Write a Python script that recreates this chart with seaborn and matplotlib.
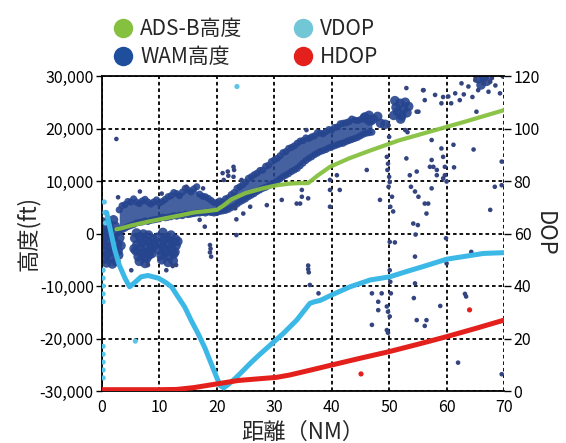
import matplotlib
matplotlib.use("Agg")
import matplotlib.pyplot as plt
from matplotlib.lines import Line2D
from matplotlib.ticker import FuncFormatter, MultipleLocator
import seaborn as sns
import pandas as pd

# ADS-B altitude (ft) vs distance (NM)
ads_d = [2.5, 3.4, 5, 8, 11, 13.8, 16, 18.5, 20, 21, 22.5, 25, 28, 30.5, 32.7,
         34.5, 35.9, 37.5, 39.7, 43, 46.7, 51.6, 57.4, 63.2, 70]
ads_h = [800, 1000, 1500, 2250, 2900, 3500, 4000, 4300, 4500, 5200, 6500, 7700, 8600, 9200, 9500,
         9600, 9600, 11000, 12700, 14300, 15800, 17700, 19500, 21300, 23500]

# WAM altitude: dense band (upper and lower edge)
band_d = [3, 4, 5, 6, 7, 8, 9, 10, 11, 12, 13, 14, 15, 16, 17, 18, 19, 20, 21, 22, 23, 24, 25,
          26, 27, 28, 29, 30, 31, 32, 33, 34, 35, 36, 37, 38, 39, 40, 41, 42, 43, 44, 45, 46, 47]
band_top_h = [4500, 5500, 6000, 6000, 6200, 6000, 6000, 5800, 6500, 7200, 7600, 7900, 8300, 8500,
              7500, 7000, 6300, 5800, 6000, 6800, 7800, 8900, 9800, 10800, 11500, 12100, 13000,
              14000, 14800, 15600, 16400, 17200, 17700, 18100, 18600, 19100, 19400, 19700, 20300,
              21000, 21300, 21600, 21700, 21600, 21300]
band_bot_h = [500, 1000, 1500, 2000, 2200, 2300, 2600, 2800, 3000, 3200, 3300, 3400, 3600, 3800,
              3900, 3900, 4000, 4000, 4300, 4600, 5200, 6000, 6600, 7300, 8000, 8600, 9100, 9600,
              10400, 11100, 11800, 12400, 13400, 14300, 15000, 15600, 16000, 16500, 16900, 17200,
              17700, 18100, 18600, 19100, 19300]
edge_d = [3.5, 4.5, 5.5, 6.5, 7.5, 8.5, 9.5, 10.5, 11.5, 12.5, 13.5, 14.5, 15.5, 16.5, 17.5,
          18.5, 19.5, 20.5, 21.5, 22.5, 23.5, 24.5, 25.5, 26.5, 27.5, 28.5, 29.5, 30.5, 31.5,
          32.5, 33.5, 34.5, 35.5, 36.5, 37.5, 38.5, 39.5, 40.5, 41.5, 42.5, 43.5, 44.5, 45.5, 46.5]
edge_top_h = [5300, 6100, 6600, 5700, 6500, 5600, 6400, 6100, 7000, 7800, 7200, 8600, 7900, 8900,
              7100, 6700, 5900, 6200, 6600, 7400, 8600, 9300, 10500, 11200, 12000, 12800, 13700,
              14300, 15400, 16200, 16700, 17600, 18200, 18400, 19200, 19000, 19800, 20200, 20900,
              21100, 21800, 21500, 22200, 21200]
edge_bot_h = [700, 1300, 1700, 2100, 2400, 2500, 2700, 3100, 3100, 3400, 3500, 3700, 3700, 3900,
              4000, 4100, 3900, 4200, 4400, 4900, 5600, 6300, 7000, 7600, 8300, 8800, 9400, 10000,
              10800, 11400, 12100, 12900, 13900, 14600, 15300, 15800, 16300, 16700, 17100, 17500,
              17900, 18300, 18900, 19200]

# WAM dense clusters
blob_d = [0.1, 0.4, 0.2, 0.5, 0.1, 0.7, 0.3, 0.9, 0.5, 1.1, 1.4, 1.2, 1.7, 1.3, 1.9, 1.4, 2.0, 2.3,
          2.5, 2.0, 2.7, 2.2, 2.9, 2.4, 3.1, 3.3, 0.8, 1.8, 0.9, 2.8,
          5.7, 6.1, 5.9, 6.3, 6.6, 6.9, 6.7, 7.0, 6.5, 7.4, 7.7, 7.3, 7.8, 8.1, 8.3, 8.5, 8.2, 8.8,
          8.9, 8.7, 7.5, 6.0, 9.1, 5.6, 7.2,
          9.7, 10.1, 9.9, 10.3, 10.6, 10.8, 10.6, 11.0, 11.3, 11.6, 11.2, 11.7, 12.0, 12.3, 12.1,
          12.5, 12.8, 12.9, 12.7, 12.4, 11.5, 13.2, 10.4,
          50.8, 51.2, 51.5, 51.9, 52.2, 52.5, 52.8, 53.1, 51.0, 53.4, 52.0, 45.8, 46.5, 47.2, 48.0,
          48.5, 49.3, 65.5, 66.5, 67.0, 66.0]
blob_h = [2200, 1200, 300, -600, -1500, -2300, -3200, -4000, -4900, 1900, 700, -400, -1300, -2600,
          -3500, -4500, 2600, 1400, 200, -900, -2000, -3000, -4100, -5300, -800, -2300, -5600,
          -5800, 400, -3300,
          -900, -2100, -3300, -4400, -600, -1700, -2900, -4000, -5300, -1200, -2400, -3500, -4700,
          -300, -1800, -3000, -4100, -1000, -2500, -3800, -5700, 100, -1900, -2900, -100,
          -700, -1900, -3100, -4200, 200, -1300, -2600, -3700, -800, -2100, -3200, -4400, -300,
          -1600, -2800, -3900, -1100, -2300, -3500, -5200, -5500, -1500, -5000,
          22500, 24000, 23200, 24800, 22400, 23700, 25000, 23000, 25300, 24200, 21800, 22200, 22500,
          21800, 22300, 21000, 20800, 29500, 29800, 29000, 28300]

# WAM scattered points
wam_d = [2.5, 2.8, 6.6, 10.4, 14.7, 17.6, 17.0, 17.9, 18.8, 18.9, 18.8, 19.0, 5.1, 8.0, 11.2, 12.9,
         12.3, 21.0, 21.2, 21.9, 22.0, 22.9, 23.0, 22.9, 24.3, 23.4, 23.4, 23.2, 24.6, 25.8, 28.7,
         31.3, 34.5, 33.9, 34.8, 35.9, 34.8, 35.6, 39.7, 40.9, 39.7, 39.7, 41.4, 46.1, 48.4, 50.7,
         49.9, 50.0, 49.6, 49.8, 49.7, 50.0, 50.1, 49.9, 50.5, 50.2,
         53.0, 53.6, 53.8, 54.5, 55.1, 56.2, 56.5, 54.2, 55.0, 54.6, 57.4, 57.4, 57.7, 58.3, 59.1,
         59.4, 59.7, 59.7, 60.0, 61.2, 61.3, 64.7, 67.6, 69.6, 68.4, 69.6, 54.8, 57.1, 58.3, 59.4,
         57.4, 56.8, 65.2, 52.8, 53.2,
         35.9, 35.9, 36.0, 36.2, 37.7, 47.0, 48.7, 48.1, 48.1, 47.0, 49.6, 50.1, 50.2, 50.3, 49.8,
         50.1, 49.6, 49.8, 54.5, 54.5, 54.3, 54.8, 56.5, 56.2, 58.9, 62.0, 63.2, 63.4, 64.3, 59.9,
         60.0, 69.6, 51.0, 50.1,
         53.0, 55.9, 59.4, 62.3, 69.3, 67.6, 65.0, 55.1, 56.2, 58.0, 59.1, 60.3, 61.5, 62.6, 63.8,
         65.0, 65.5, 66.4, 67.3, 67.9, 69.8, 54.8, 56.0, 64.5, 68.5, 60.8, 63.0]
wam_h = [18000, 6900, 8000, 7600, 8900, 8600, 2600, 1300, -2200, -2900, -3600, -4400, -7000, -6000,
         -7000, -6000, -6200, 11500, 10200, 11800, 11000, 12700, 12100, 10800, 10200, 2700, -300,
         4800, 3800, 5100, 5400, 6400, 5700, 5700, 7000, 6700, 8300, 19700, 10200, 11100, 8300,
         5100, 8300, 12100, 6400, 4200,
         20600, 18400, 14600, 13300, 12100, 10800, 9800, 8900, 7000, 5100,
         14300, 11100, 8900, 8000, 7000, 5700, 3800, 1900, 1600, -200, 17800, 14000, 12700, 11100,
         16200, 14600, 12700, 11100, 9900, 16900, 12600, 16000, 4500, 13700, 8900, 9200, 11800,
         12700, 12100, 10500, 8600, 5700, 23200, 19700, 19300,
         -6100, -6800, -7400, -9800, -11400, -11400, -11400, -13000, -14600, -17400, -13900, -7000,
         -9200, -11400, -14900, -15800, -18400, -18900, -4400, -9500, -12300, -16500, -16500,
         -17600, -13800, -24600, -11500, -12000, -3500, -900, -5700, -26800, -1700, -1600,
         27700, 27300, 26000, 25400, 26700, 28900, 30000, 23200, 25400, 26400, 24800, 26100, 26700,
         28600, 28000, 29200, 27300, 28600, 27000, 29600, 29900, 23200, 27300, 26000, 28200,
         24800, 26500]

# VDOP (line) and stray VDOP points
vdop_d = [0.8, 1.5, 2.2, 3.0, 4.0, 4.8, 5.8, 6.8, 8.0, 9.8, 11.0, 12.1, 13.2, 14.4, 15.5, 16.7,
          17.9, 19.0, 20.0, 20.6, 21.2, 22.0, 22.9, 24.0, 25.8, 27.5, 29.3, 31.6, 33.9, 36.2,
          37.0, 38.0, 40.0, 43.2, 46.7, 50.1, 53.0, 55.9, 60.0, 63.5, 66.4, 70.0]
vdop_v = [68, 61, 54, 48, 43, 39.7, 41.5, 43.5, 44, 43, 41.5, 39.7, 36, 32, 27, 22, 16.5, 10.5, 5,
          2, 1.2, 2.5, 4.2, 6.5, 10.5, 14, 17.5, 22, 27, 33.4, 34, 34.5, 36.6, 39.7, 42.3, 43.5,
          45.5, 47.4, 50.2, 51.4, 52.4, 52.7]
vdop_pt_d = [0.2, 0.2, 0.2, 0.2, 0.2, 0.2, 0.2, 0.2, 0.2, 0.2, 0.4, 0.5, 0.6, 5.8, 23.5]
vdop_pt_v = [46, 43, 40, 37, 34, 17, 14, 11, 8, 5, 72, 68, 64, 19, 116]

# HDOP (line) and stray HDOP points
hdop_d = [0, 5, 10, 13, 16, 20, 23.7, 27, 30.4, 32.7, 36, 40, 45, 50, 55, 60, 65, 70]
hdop_v = [0.5, 0.5, 0.5, 0.6, 1.3, 2.7, 4.0, 4.6, 5.2, 6.1, 7.8, 9.9, 12.5, 15, 17.8, 20.7, 23.8, 27]
hdop_pt_d = [45.1, 64.0]
hdop_pt_v = [6.5, 30.9]

green = "#86c03f"
navy = "#26458f"
sky = "#3bb8e6"
red = "#e3201c"

sns.set_style("white")
plt.rcParams['font.family'] = ['Noto Sans CJK JP', 'DejaVu Sans']

fig = plt.figure(figsize=(5.66, 4.43), dpi=100)
ax = fig.add_axes([102 / 566, 52 / 443, 402 / 566, 315 / 443])

edges = pd.DataFrame({'d': band_d + band_d + edge_d + edge_d,
                      'h': band_top_h + band_bot_h + edge_top_h + edge_bot_h})
blobs = pd.DataFrame({'d': blob_d, 'h': blob_h})
wam = pd.DataFrame({'d': wam_d, 'h': wam_h})

ax.fill_between(band_d, band_bot_h, band_top_h, color=navy, alpha=0.85, linewidth=0)
sns.scatterplot(data=edges, x='d', y='h', ax=ax, s=26, color=navy, edgecolor='none', alpha=0.9, legend=False)
sns.scatterplot(data=blobs, x='d', y='h', ax=ax, s=48, color=navy, edgecolor='none', alpha=0.9, legend=False)
sns.scatterplot(data=wam, x='d', y='h', ax=ax, s=11, color="#34447f", edgecolor='none', legend=False)
sns.lineplot(x=ads_d, y=ads_h, ax=ax, color=green, linewidth=3, sort=False, estimator=None, alpha=0.95)

ax.set_xlim(0, 70)
ax.set_ylim(-30000, 30000)
ax.xaxis.set_major_locator(MultipleLocator(10))
ax.yaxis.set_major_locator(MultipleLocator(10000))
ax.yaxis.set_major_formatter(FuncFormatter(lambda v, p: f"{v:,.0f}"))
ax.grid(True, color='black', linestyle=(0, (2, 1.6)), linewidth=1.3)
ax.set_axisbelow(True)
for s in ['left', 'bottom', 'top']:
    ax.spines[s].set_color('black')
    ax.spines[s].set_linewidth(1.3)
ax.spines['right'].set_visible(False)
ax.tick_params(axis='y', direction='out', length=4, width=1, labelsize=11.5, pad=2, colors='black')
ax.tick_params(axis='x', direction='in', length=3, width=1, labelsize=11.5, pad=6, colors='black')
ax.set_xlabel('距離（NM）', fontsize=16)
ax.set_ylabel('高度(ft)', fontsize=16)
ax.xaxis.set_label_coords(0.5, -0.095)
ax.yaxis.set_label_coords(-0.155, 0.5)

ax2 = ax.twinx()
sns.lineplot(x=vdop_d, y=vdop_v, ax=ax2, color=sky, linewidth=3.6, sort=False, estimator=None)
sns.scatterplot(x=vdop_pt_d, y=vdop_pt_v, ax=ax2, s=14, color="#5cc4e6", edgecolor='none', legend=False)
sns.lineplot(x=hdop_d, y=hdop_v, ax=ax2, color=red, linewidth=3.6, sort=False, estimator=None)
sns.scatterplot(x=hdop_pt_d, y=hdop_pt_v, ax=ax2, s=14, color=red, edgecolor='none', legend=False)
ax2.set_ylim(0, 120)
ax2.yaxis.set_major_locator(MultipleLocator(20))
for s in ['left', 'right', 'top', 'bottom']:
    ax2.spines[s].set_visible(False)
ax2.tick_params(axis='y', direction='out', length=5, width=1, labelsize=11.5, pad=2, colors='black')
ax2.set_ylabel('DOP', fontsize=16, rotation=270, va='center')
ax2.yaxis.set_label_coords(1.1, 0.5)

handles = [Line2D([], [], marker='o', linestyle='none', markersize=14, markerfacecolor=c, markeredgecolor='none')
           for c in [green, "#1f4e9c", "#72c7d6", red]]
labels = ['ADS-B高度', 'WAM高度', 'VDOP', 'HDOP']
fig.legend(handles, labels, ncol=2, loc='upper left', bbox_to_anchor=(0.185, 0.978), frameon=False,
           fontsize=15, handletextpad=0.3, columnspacing=2.4, labelspacing=0.3, handlelength=1.0,
           borderaxespad=0)

fig.savefig("out.png", dpi=100)
